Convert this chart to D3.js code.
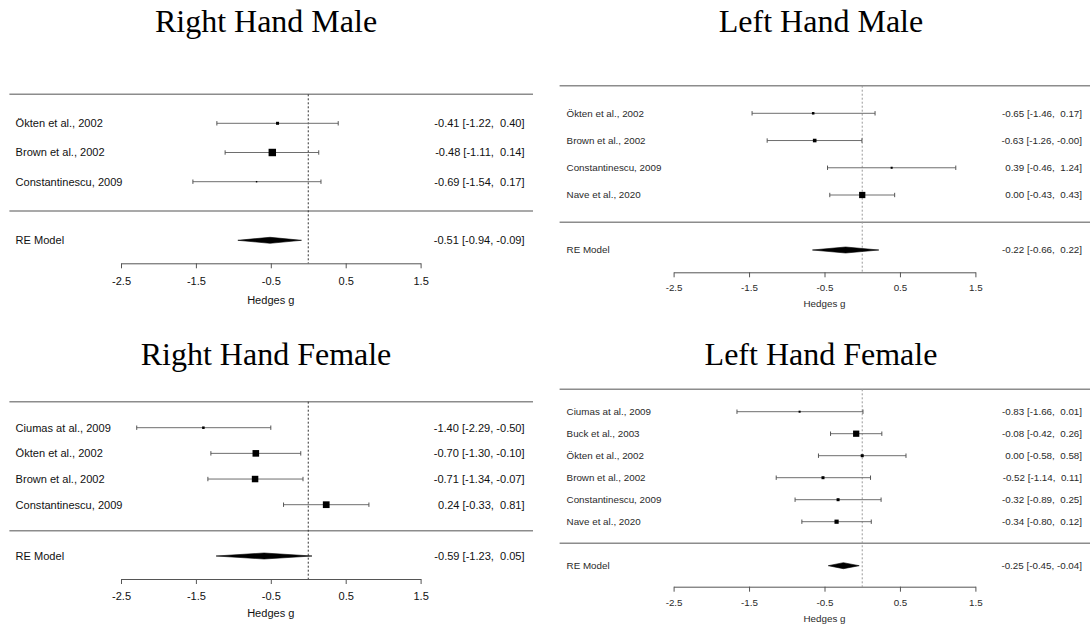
<!DOCTYPE html>
<html>
<head>
<meta charset="utf-8">
<script src="https://cdn.jsdelivr.net/npm/d3@7"></script>
<style>
  html, body { margin: 0; padding: 0; background: #fff; }
  svg { display: block; }
  text { white-space: pre; }
</style>
</head>
<body>
<svg id="chart" width="1090" height="626"></svg>
<script>
// ---------------- DATA ----------------
const tickValues = [-2.5, -1.5, -0.5, 0.5, 1.5];
const axisTitle = "Hedges g";
const pooledLabel = "RE Model";

// Right Hand Male
const rhmTitle = "Right Hand Male";
const rhmStudies = ["Ökten et al., 2002", "Brown et al., 2002", "Constantinescu, 2009"];
const rhmEst = [-0.41, -0.48, -0.69];
const rhmLower = [-1.22, -1.11, -1.54];
const rhmUpper = [0.40, 0.14, 0.17];
const rhmWeight = [25, 62, 12];
const rhmPooled = [-0.51, -0.94, -0.09];

// Left Hand Male
const lhmTitle = "Left Hand Male";
const lhmStudies = ["Ökten et al., 2002", "Brown et al., 2002", "Constantinescu, 2009", "Nave et al., 2020"];
const lhmEst = [-0.65, -0.63, 0.39, 0.00];
const lhmLower = [-1.46, -1.26, -0.46, -0.43];
const lhmUpper = [0.17, -0.004, 1.24, 0.43];
const lhmWeight = [21, 30, 17, 52];
const lhmPooled = [-0.22, -0.66, 0.22];

// Right Hand Female
const rhfTitle = "Right Hand Female";
const rhfStudies = ["Ciumas at al., 2009", "Ökten et al., 2002", "Brown et al., 2002", "Constantinescu, 2009"];
const rhfEst = [-1.40, -0.70, -0.71, 0.24];
const rhfLower = [-2.29, -1.30, -1.34, -0.33];
const rhfUpper = [-0.50, -0.10, -0.07, 0.81];
const rhfWeight = [21, 55, 54, 56];
const rhfPooled = [-0.59, -1.23, 0.05];

// Left Hand Female
const lhfTitle = "Left Hand Female";
const lhfStudies = ["Ciumas at al., 2009", "Buck et al., 2003", "Ökten et al., 2002", "Brown et al., 2002", "Constantinescu, 2009", "Nave et al., 2020"];
const lhfEst = [-0.83, -0.08, 0.00, -0.52, -0.32, -0.34];
const lhfLower = [-1.66, -0.42, -0.58, -1.14, -0.89, -0.80];
const lhfUpper = [0.01, 0.26, 0.58, 0.11, 0.25, 0.12];
const lhfWeight = [17, 52, 25, 25, 25, 35];
const lhfPooled = [-0.25, -0.45, -0.04];

// ---------------- LAYOUT ----------------
const titleFont = "'Liberation Serif', 'Times New Roman', serif";
const leftGeom = { x0: 121, x1: 420.6, label: 15.6, right: 524.6, h0: 9.4, h1: 533, fs: 11.05, titleSize: 32, titleX: 266, text: "#111", refColor: "#333", tickPad: 8.5 };
const rightGeom = { x0: 673.6, x1: 975.4, label: 566.6, right: 1082, h0: 559.6, h1: 1090, fs: 9.8, titleSize: 32, titleX: 821, text: "#2a2a2a", refColor: "#999", tickPad: 7 };

const panels = [
  { g: leftGeom, title: rhmTitle, titleY: 32, studies: rhmStudies, est: rhmEst, lo: rhmLower, hi: rhmUpper, w: rhmWeight, pooled: rhmPooled,
    top: 94.3, row0: 123.3, rowN: 181.7, mid: 211, re: 240.3, axis: 263.3, gTitle: 304 },
  { g: rightGeom, title: lhmTitle, titleY: 32, studies: lhmStudies, est: lhmEst, lo: lhmLower, hi: lhmUpper, w: lhmWeight, pooled: lhmPooled,
    top: 85.7, row0: 113.3, rowN: 195, mid: 222.3, re: 250, axis: 272.3, gTitle: 306.5 },
  { g: leftGeom, title: rhfTitle, titleY: 365, studies: rhfStudies, est: rhfEst, lo: rhfLower, hi: rhfUpper, w: rhfWeight, pooled: rhfPooled,
    top: 401.7, row0: 427.7, rowN: 504.7, mid: 530.7, re: 556, axis: 579, gTitle: 617.3 },
  { g: rightGeom, title: lhfTitle, titleY: 365, studies: lhfStudies, est: lhfEst, lo: lhfLower, hi: lhfUpper, w: lhfWeight, pooled: lhfPooled,
    top: 389.3, row0: 411.7, rowN: 521.7, mid: 543.3, re: 565.7, axis: 586.7, gTitle: 621.8 }
];

const svg = d3.select("#chart");
const sizeScale = d3.scaleLinear().domain([0, 50]).range([0, 6]);
const fx = (v) => v.toFixed(2);
const ciText = (e, l, h) => `${fx(e)} [${fx(l)}, ${h >= 0 ? " " : ""}${fx(h)}]`;

panels.forEach(p => {
  const G = p.g;
  const x = d3.scaleLinear().domain([-2.5, 1.5]).range([G.x0, G.x1]);
  const y = d3.scaleLinear().domain([0, p.studies.length - 1]).range([p.row0, p.rowN]);
  const grp = svg.append("g");
  const font = "'Liberation Sans', Arial, sans-serif";

  // title
  grp.append("text").attr("x", G.titleX).attr("y", p.titleY)
    .attr("text-anchor", "middle").attr("font-family", titleFont)
    .attr("font-size", G.titleSize).attr("fill", "#000").text(p.title);

  // horizontal separators
  [p.top, p.mid].forEach(yy => {
    grp.append("line").attr("x1", G.h0).attr("x2", G.h1).attr("y1", yy).attr("y2", yy)
      .attr("stroke", "#8c8c8c").attr("stroke-width", 1.4);
  });

  // reference line at 0
  grp.append("line").attr("x1", x(0)).attr("x2", x(0)).attr("y1", p.top).attr("y2", p.axis)
    .attr("stroke", G.refColor).attr("stroke-width", 1).attr("stroke-dasharray", "2,2");

  // study rows
  const idx = d3.range(p.studies.length);
  const rows = grp.selectAll("g.row").data(idx).join("g").attr("class", "row");
  rows.append("line").attr("x1", i => x(p.lo[i])).attr("x2", i => x(p.hi[i]))
    .attr("y1", i => y(i)).attr("y2", i => y(i)).attr("stroke", "#6e6e6e").attr("stroke-width", 1);
  rows.append("line").attr("x1", i => x(p.lo[i])).attr("x2", i => x(p.lo[i]))
    .attr("y1", i => y(i) - 2.2).attr("y2", i => y(i) + 2.2).attr("stroke", "#555").attr("stroke-width", 1);
  rows.append("line").attr("x1", i => x(p.hi[i])).attr("x2", i => x(p.hi[i]))
    .attr("y1", i => y(i) - 2.2).attr("y2", i => y(i) + 2.2).attr("stroke", "#555").attr("stroke-width", 1);
  rows.append("rect")
    .attr("x", i => x(p.est[i]) - sizeScale(p.w[i]) / 2)
    .attr("y", i => y(i) - sizeScale(p.w[i]) / 2)
    .attr("width", i => sizeScale(p.w[i])).attr("height", i => sizeScale(p.w[i]))
    .attr("fill", "#000");
  rows.append("text").attr("x", G.label).attr("y", i => y(i)).attr("dy", "0.35em")
    .attr("font-family", font).attr("font-size", G.fs).attr("fill", G.text).text(i => p.studies[i]);
  rows.append("text").attr("x", G.right).attr("y", i => y(i)).attr("dy", "0.35em")
    .attr("text-anchor", "end").attr("font-family", font).attr("font-size", G.fs).attr("fill", G.text)
    .text(i => ciText(p.est[i], p.lo[i], p.hi[i]));

  // pooled diamond
  const [pe, pl, ph] = p.pooled;
  const hh = 3;
  grp.append("path")
    .attr("d", d3.line()([[x(pl), p.re], [x(pe), p.re - hh], [x(ph), p.re], [x(pe), p.re + hh]]) + "Z")
    .attr("fill", "#000").attr("stroke", "#000").attr("stroke-width", 0.6);
  grp.append("text").attr("x", G.label).attr("y", p.re).attr("dy", "0.35em")
    .attr("font-family", font).attr("font-size", G.fs).attr("fill", G.text).text(pooledLabel);
  grp.append("text").attr("x", G.right).attr("y", p.re).attr("dy", "0.35em")
    .attr("text-anchor", "end").attr("font-family", font).attr("font-size", G.fs).attr("fill", G.text)
    .text(ciText(pe, pl, ph));

  // axis
  const ax = grp.append("g").attr("transform", `translate(0,${p.axis})`)
    .call(d3.axisBottom(x).tickValues(tickValues).tickSize(5).tickSizeOuter(0)
      .tickPadding(G.tickPad).tickFormat(d => d.toFixed(1)));
  ax.select(".domain").attr("stroke", "#555");
  ax.selectAll(".tick line").attr("stroke", "#555");
  ax.selectAll(".tick text").attr("font-family", font).attr("font-size", G.fs).attr("fill", G.text);

  grp.append("text").attr("x", x(-0.5)).attr("y", p.gTitle).attr("text-anchor", "middle")
    .attr("font-family", font).attr("font-size", G.fs).attr("fill", G.text).text(axisTitle);
});
</script>
</body>
</html>
